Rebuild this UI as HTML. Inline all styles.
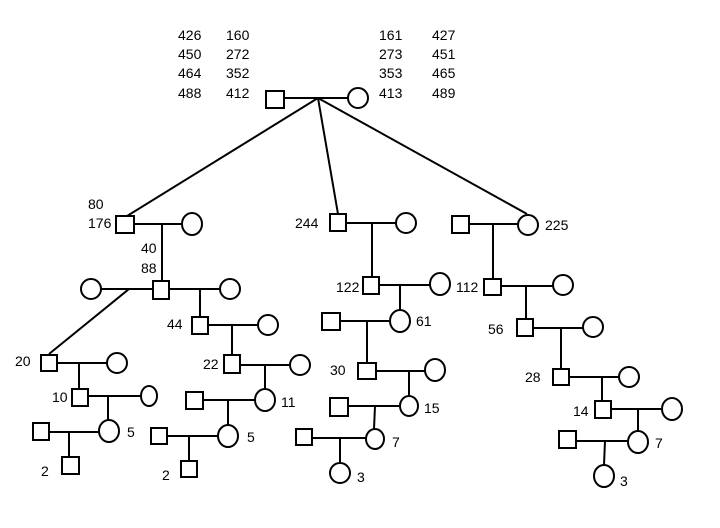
<!DOCTYPE html>
<html><head><style>body{margin:0;background:#fff}svg{display:block}text{font-family:"Liberation Sans",sans-serif;font-size:14px;fill:#000}</style></head><body>
<svg width="720" height="528" viewBox="0 0 720 528" xmlns="http://www.w3.org/2000/svg">
<g stroke="#000" stroke-width="2" fill="none">
<!-- top -->
<line x1="284" y1="98" x2="348" y2="98"/>
<line x1="318" y1="98" x2="127" y2="216"/>
<line x1="318" y1="98" x2="338" y2="214"/>
<line x1="318" y1="98" x2="527" y2="214"/>
<rect x="266" y="91" width="18" height="17" fill="#fff"/>
<ellipse cx="358" cy="98" rx="10" ry="10" fill="#fff"/>
<!-- left branch -->
<line x1="135" y1="224" x2="182" y2="224"/><line x1="162" y1="224" x2="162" y2="282"/>
<rect x="116" y="216" width="18" height="17"/><ellipse cx="192" cy="224" rx="10" ry="11"/>
<line x1="101" y1="289" x2="153" y2="289"/><line x1="169" y1="289" x2="220" y2="289"/>
<line x1="129" y1="289" x2="49" y2="354"/><line x1="200" y1="289" x2="200" y2="317"/>
<rect x="153" y="281" width="16" height="18"/><ellipse cx="91" cy="289" rx="10" ry="10"/><ellipse cx="230" cy="289" rx="10" ry="10"/>
<line x1="208" y1="325" x2="258" y2="325"/><line x1="232" y1="325" x2="232" y2="355"/>
<rect x="192" y="317" width="16" height="17"/><ellipse cx="268" cy="325" rx="10" ry="10"/>
<line x1="240" y1="365" x2="290" y2="365"/><line x1="265" y1="365" x2="265" y2="389"/>
<rect x="224" y="355" width="16" height="18"/><ellipse cx="300" cy="365" rx="10" ry="10"/>
<line x1="203" y1="400" x2="255" y2="400"/><line x1="228" y1="400" x2="228" y2="425"/>
<rect x="186" y="392" width="17" height="17"/><ellipse cx="265" cy="400" rx="10" ry="11"/>
<line x1="168" y1="436" x2="218" y2="436"/><line x1="189" y1="436" x2="189" y2="461"/>
<rect x="151" y="428" width="16" height="16"/><ellipse cx="228" cy="436" rx="10" ry="11"/>
<rect x="181" y="461" width="16" height="16"/>
<!-- 20 branch -->
<line x1="57" y1="363" x2="107" y2="363"/><line x1="79" y1="363" x2="79" y2="389"/>
<rect x="41" y="355" width="16" height="16"/><ellipse cx="117" cy="363" rx="10" ry="10"/>
<line x1="88" y1="396" x2="141" y2="396"/><line x1="108" y1="396" x2="108" y2="421"/>
<rect x="72" y="389" width="16" height="17"/><ellipse cx="149" cy="396" rx="8" ry="10"/>
<line x1="49" y1="432" x2="99" y2="432"/><line x1="69" y1="432" x2="69" y2="457"/>
<rect x="33" y="423" width="16" height="17"/><ellipse cx="109" cy="431" rx="10" ry="11"/>
<rect x="62" y="457" width="17" height="17"/>
<!-- middle branch -->
<line x1="346" y1="223" x2="396" y2="223"/><line x1="372" y1="223" x2="372" y2="277"/>
<rect x="330" y="214" width="16" height="17"/><ellipse cx="406" cy="223" rx="10" ry="10"/>
<line x1="379" y1="285" x2="430" y2="285"/><line x1="400" y1="285" x2="400" y2="310"/>
<rect x="363" y="277" width="16" height="17"/><ellipse cx="440" cy="284" rx="10" ry="11"/>
<line x1="340" y1="321" x2="390" y2="321"/><line x1="367" y1="321" x2="367" y2="363"/>
<rect x="322" y="313" width="18" height="17"/><ellipse cx="400" cy="321" rx="10" ry="11"/>
<line x1="376" y1="371" x2="425" y2="371"/><line x1="409" y1="371" x2="409" y2="395"/>
<rect x="358" y="363" width="18" height="16"/><ellipse cx="435" cy="370" rx="10" ry="11"/>
<line x1="348" y1="406" x2="399" y2="406"/><line x1="375" y1="406" x2="374" y2="429"/>
<rect x="330" y="398" width="18" height="18"/><ellipse cx="409" cy="406" rx="9" ry="10"/>
<line x1="313" y1="438" x2="366" y2="438"/><line x1="340" y1="438" x2="340" y2="462"/>
<rect x="296" y="429" width="16" height="16"/><ellipse cx="375" cy="439" rx="9" ry="10"/>
<ellipse cx="340" cy="473" rx="10" ry="10"/>
<!-- right branch -->
<line x1="469" y1="224" x2="518" y2="224"/><line x1="493" y1="224" x2="493" y2="279"/>
<rect x="452" y="216" width="17" height="17"/><ellipse cx="528" cy="225" rx="10" ry="10"/>
<line x1="501" y1="286" x2="553" y2="286"/><line x1="526" y1="286" x2="526" y2="319"/>
<rect x="484" y="279" width="17" height="16"/><ellipse cx="563" cy="285" rx="10" ry="10"/>
<line x1="533" y1="328" x2="583" y2="328"/><line x1="561" y1="328" x2="561" y2="369"/>
<rect x="517" y="319" width="16" height="17"/><ellipse cx="593" cy="327" rx="10" ry="10"/>
<line x1="569" y1="377" x2="619" y2="377"/><line x1="602" y1="377" x2="602" y2="401"/>
<rect x="553" y="369" width="16" height="16"/><ellipse cx="629" cy="377" rx="10" ry="10"/>
<line x1="611" y1="409" x2="662" y2="409"/><line x1="638" y1="409" x2="638" y2="432"/>
<rect x="595" y="401" width="16" height="17"/><ellipse cx="672" cy="409" rx="10" ry="11"/>
<line x1="576" y1="441" x2="628" y2="441"/><line x1="605" y1="441" x2="604" y2="465"/>
<rect x="559" y="431" width="17" height="17"/><ellipse cx="638" cy="442" rx="10" ry="11"/>
<ellipse cx="604" cy="476" rx="10" ry="11"/>
</g>
<text x="178" y="40">426</text><text x="226" y="40">160</text>
<text x="178" y="59">450</text><text x="226" y="59">272</text>
<text x="178" y="78">464</text><text x="226" y="78">352</text>
<text x="178" y="98">488</text><text x="226" y="98">412</text>
<text x="379" y="40">161</text><text x="432" y="40">427</text>
<text x="379" y="59">273</text><text x="432" y="59">451</text>
<text x="379" y="78">353</text><text x="432" y="78">465</text>
<text x="379" y="98">413</text><text x="432" y="98">489</text>
<text x="88" y="209">80</text><text x="88" y="228">176</text>
<text x="141" y="253">40</text><text x="141" y="273">88</text>
<text x="167" y="329">44</text><text x="203" y="369">22</text>
<text x="281" y="407">11</text><text x="247" y="442">5</text>
<text x="162" y="480">2</text>
<text x="15" y="366">20</text><text x="52" y="402">10</text>
<text x="127" y="437">5</text><text x="41" y="476">2</text>
<text x="295" y="228">244</text><text x="336" y="292">122</text>
<text x="416" y="326">61</text><text x="330" y="375">30</text>
<text x="424" y="413">15</text><text x="392" y="447">7</text>
<text x="357" y="482">3</text>
<text x="545" y="230">225</text><text x="456" y="292">112</text>
<text x="488" y="334">56</text><text x="525" y="382">28</text>
<text x="573" y="416">14</text><text x="655" y="448">7</text>
<text x="620" y="486">3</text>
</svg>
</body></html>
